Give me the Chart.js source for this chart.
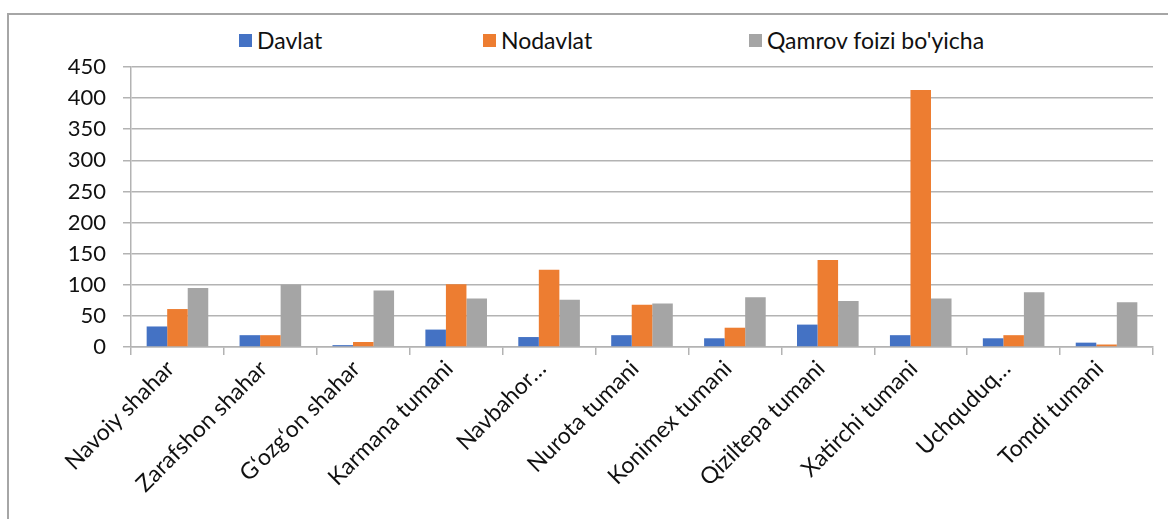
<!DOCTYPE html>
<html>
<head>
<meta charset="utf-8">
<script src="https://cdn.jsdelivr.net/npm/chart.js@4.4.1/dist/chart.umd.min.js"></script>
<style>
    body { margin: 0; background: #fff; }
    .wrap { position: relative; width: 1168px; height: 519px; overflow: hidden; }
    .frame {
        position: absolute; left: 7px; top: 13px; right: -5px; bottom: -5px;
        border-top: 2px solid #a6a6a6; border-left: 2px solid #a6a6a6;
    }
    #legend { position: absolute; top: 25px; left: 0; height: 30px; font-family: Lato, sans-serif; font-size: 23px; color: #111; }
    #legend .item { position: absolute; top: 0; display: flex; align-items: center; white-space: nowrap; height: 30px; }
    #legend .item:nth-child(1) { left: 239px; }
    #legend .item:nth-child(2) { left: 483px; }
    #legend .item:nth-child(3) { left: 749px; }
    #legend .box { width: 13px; height: 13px; margin-right: 5px; }
    canvas { position: absolute; left: 0; top: 0; }
</style>
</head>
<body>
<div class="wrap">
    <div class="frame"></div>
    <div id="legend"></div>
    <canvas id="chart" width="1168" height="519"></canvas>
</div>
<script>
// categories and series
const categories = ['Navoiy shahar', 'Zarafshon shahar', 'G\u2018ozg\u2018on shahar', 'Karmana tumani', 'Navbahor\u2026',
    'Nurota tumani', 'Konimex tumani', 'Qiziltepa tumani', 'Xatirchi tumani', 'Uchquduq\u2026', 'Tomdi tumani'];
const seriesNames = ['Davlat', 'Nodavlat', "Qamrov foizi bo'yicha"];
const davlat = [33, 19, 3, 28, 16, 19, 14, 36, 19, 14, 7];
const nodavlat = [61, 19, 8, 101, 124, 68, 31, 140, 413, 19, 4];
const qamrov = [95, 100, 91, 78, 76, 70, 80, 74, 78, 88, 72];
const yTicks = [0, 50, 100, 150, 200, 250, 300, 350, 400, 450];

const colors = ['#4472C4', '#ED7D31', '#A5A5A5'];
const gridColor = '#b3b3b3';
const font = { family: 'Lato, sans-serif', size: 23 };

// legend
let legend = document.getElementById('legend');
seriesNames.forEach((name, i) => {
    let item = document.createElement('div');
    item.className = 'item';
    item.innerHTML = `<span class="box" style="background:${colors[i]}"></span><span>${name}</span>`;
    legend.appendChild(item);
});

const ctx = document.getElementById('chart').getContext('2d');
new Chart(ctx, {
    type: 'bar',
    data: {
        labels: categories,
        datasets: [davlat, nodavlat, qamrov].map((d, i) => ({
            label: seriesNames[i],
            data: d,
            backgroundColor: colors[i],
            borderWidth: 0,
            barPercentage: 1,
            categoryPercentage: 0.663
        }))
    },
    options: {
        responsive: false,
        animation: false,
        layout: { padding: { top: 67, right: 15, left: 0, bottom: 0 } },
        plugins: {
            legend: { display: false },
            tooltip: { enabled: false }
        },
        scales: {
            x: {
                grid: { offset: true, drawOnChartArea: false, color: gridColor, tickLength: 8, lineWidth: 1.5 },
                border: { color: gridColor, width: 1.5 },
                ticks: { color: '#111', font: font, maxRotation: 45, minRotation: 45, autoSkip: false, padding: 0, labelOffset: -7 },
                afterFit: function (scale) { scale.height = 172; }
            },
            y: {
                min: 0,
                max: 450,
                afterBuildTicks: function (scale) { scale.ticks = yTicks.map(v => ({ value: v })); },
                grid: { color: gridColor, tickLength: 8, lineWidth: 1.5 },
                border: { color: gridColor, width: 1.5 },
                ticks: { color: '#111', font: { family: 'Lato, sans-serif', size: 22 }, padding: 17 },
                afterFit: function (scale) { scale.width = 131; }
            }
        }
    }
});
</script>
</body>
</html>
